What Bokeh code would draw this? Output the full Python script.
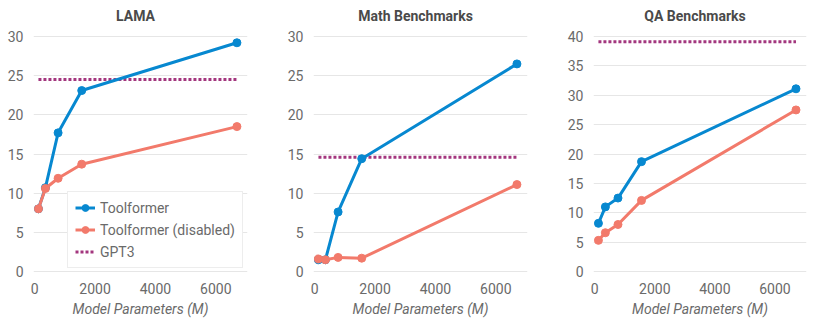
from bokeh.plotting import figure
from bokeh.layouts import row
from bokeh.models import FixedTicker, Legend, LegendItem, Range1d, Label
from bokeh.embed import file_html
from bokeh.resources import INLINE

model_params = [124, 355, 775, 1558, 6700]

lama_toolformer = [8.0, 10.7, 17.7, 23.1, 29.2]
lama_disabled = [8.0, 10.6, 11.9, 13.7, 18.5]
lama_gpt3 = 24.5

math_toolformer = [1.5, 1.5, 7.6, 14.4, 26.5]
math_disabled = [1.6, 1.5, 1.8, 1.7, 11.1]
math_gpt3 = 14.6

qa_toolformer = [8.2, 11.0, 12.5, 18.7, 31.1]
qa_disabled = [5.3, 6.6, 8.0, 12.1, 27.5]
qa_gpt3 = 39.1

x_ticks = [0, 2000, 4000, 6000]
x_label = "Model Parameters (M)"

BLUE = "#0788D0"
SALMON = "#F27A6B"
PURPLE = "#A3367E"
FONT = "Roboto"
GREY = "#6a6a6a"
XMIN, XMAX = -40, 7050
H = 327
TOP, BOTTOM = 2, 55          # borders (px)
PLOT_TOP, PLOT_ZERO = 36, 271  # pixel rows of the top tick and of zero


def make(title, tf, dis, gpt, ymax, width, lb, rb, legend=False):
    frame_bottom = H - BOTTOM
    per_px = ymax / (PLOT_ZERO - PLOT_TOP)
    y0 = -(frame_bottom - PLOT_ZERO) * per_px
    y1 = ymax + (PLOT_TOP - TOP) * per_px
    p = figure(width=width, height=H, output_backend="svg", toolbar_location=None,
               min_border_left=lb, min_border_right=rb, min_border_top=TOP,
               min_border_bottom=BOTTOM,
               x_range=Range1d(XMIN, XMAX), y_range=Range1d(y0, y1))
    p.title = None
    p.outline_line_color = None
    p.xgrid.grid_line_color = None
    p.ygrid.grid_line_color = "#e6e6e6"
    p.ygrid.grid_line_width = 1
    p.xaxis.ticker = FixedTicker(ticks=x_ticks)
    p.yaxis.ticker = FixedTicker(ticks=list(range(0, ymax + 1, 5)))
    for ax in (p.xaxis[0], p.yaxis[0]):
        ax.axis_line_color = None
        ax.major_tick_line_color = None
        ax.minor_tick_line_color = None
        ax.major_tick_out = 0
        ax.major_tick_in = 0
        ax.minor_tick_out = 0
        ax.minor_tick_in = 0
        ax.major_label_text_font = FONT
        ax.major_label_text_font_size = "14px"
        ax.major_label_text_color = GREY
    p.yaxis.major_label_standoff = 10
    p.xaxis.major_label_standoff = 10
    p.xaxis.axis_label = x_label
    p.xaxis.axis_label_text_font = FONT
    p.xaxis.axis_label_text_font_size = "14px"
    p.xaxis.axis_label_text_font_style = "italic"
    p.xaxis.axis_label_text_color = GREY
    p.xaxis.axis_label_standoff = 4

    p.add_layout(Label(x=(XMIN + XMAX) / 2, x_units="data", x_offset=-5,
                       y=frame_bottom - 15, y_units="screen",
                       text=title, text_align="center", text_baseline="middle",
                       text_font=FONT, text_font_size="14px", text_font_style="bold",
                       text_color="#4a4a4a"))

    g = p.line([model_params[0], model_params[-1]], [gpt, gpt], color=PURPLE,
               line_width=3, line_dash="3 2")
    bl = p.line(model_params, tf, color=BLUE, line_width=3)
    bs = p.scatter(model_params, tf, color=BLUE, size=8)
    sl = p.line(model_params, dis, color=SALMON, line_width=3)
    ss = p.scatter(model_params, dis, color=SALMON, size=8)

    if legend:
        leg = Legend(items=[
            LegendItem(label="Toolformer", renderers=[bl, bs]),
            LegendItem(label="Toolformer (disabled)", renderers=[sl, ss]),
            LegendItem(label="GPT3", renderers=[g]),
        ], location=(34, 4))
        leg.label_text_font = FONT
        leg.label_text_font_size = "14px"
        leg.label_text_color = GREY
        leg.border_line_color = "#dcdcdc"
        leg.border_line_width = 1.5
        leg.background_fill_alpha = 1.0
        leg.glyph_width = 20
        leg.glyph_height = 17
        leg.label_height = 17
        leg.spacing = 5
        leg.padding = 7
        leg.margin = 0
        leg.label_standoff = 5
        p.add_layout(leg, "center")
    return p


p1 = make("LAMA", lama_toolformer, lama_disabled, lama_gpt3, 30, 280, 33, 33, legend=True)
p2 = make("Math Benchmarks", math_toolformer, math_disabled, math_gpt3, 30, 275, 33, 28)
p3 = make("QA Benchmarks", qa_toolformer, qa_disabled, qa_gpt3, 40, 275, 38, 24)

p = row(p1, p2, p3)
open("out.html", "w").write(file_html(p, INLINE))
